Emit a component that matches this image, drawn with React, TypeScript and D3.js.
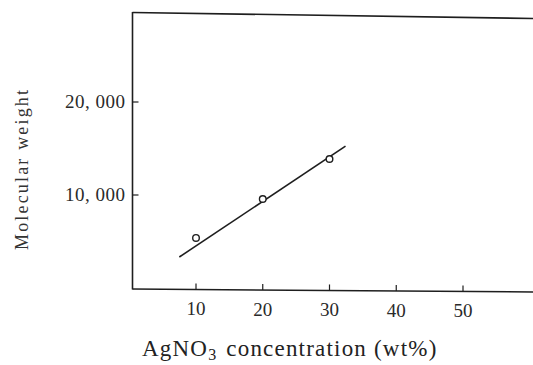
import React, { useEffect, useRef } from "react"
import * as d3 from "d3"

// measured points (AgNO3 wt% vs molecular weight)
const concentration = [10, 20, 30]
const molWeight = [5380, 9570, 13870]
// fitted line end points
const fitX = [7.5, 32.4]
const fitY = [3330, 15250]
const xTicks = [10, 20, 30, 40, 50]
const yTicks = [10000, 20000]
const yTickLabels = ["10, 000", "20, 000"]

const W = 533
const H = 365

export default function App() {
  const ref = useRef<SVGSVGElement>(null)

  useEffect(() => {
    const svg = d3.select(ref.current)
    svg.selectAll("*").remove()
    const ink = "#1e1e1e"
    const font = "Liberation Serif, DejaVu Serif, serif"

    const x = d3.scaleLinear().domain([10, 50]).range([196, 463])
    const y = d3.scaleLinear().domain([0, 20000]).range([288, 102])

    // frame: left, top (slightly skewed as in the scan), bottom
    const left = 132.5
    svg.append("line")
      .attr("x1", left).attr("x2", left)
      .attr("y1", 12).attr("y2", 289.5)
      .attr("stroke", ink).attr("stroke-width", 1.6)
    svg.append("line")
      .attr("x1", left).attr("x2", W)
      .attr("y1", 12.5).attr("y2", 18.5)
      .attr("stroke", ink).attr("stroke-width", 1.6)
    svg.append("line")
      .attr("x1", left).attr("x2", W)
      .attr("y1", 289).attr("y2", 292)
      .attr("stroke", ink).attr("stroke-width", 1.5)

    const bottomAt = (px: number) => 289 + (px - left) * 3 / (W - left)

    // x ticks (inward)
    xTicks.forEach(t => {
      const px = x(t)
      const b = bottomAt(px)
      svg.append("line")
        .attr("x1", px).attr("x2", px)
        .attr("y1", b).attr("y2", b - 6)
        .attr("stroke", ink).attr("stroke-width", 1.2)
      svg.append("text")
        .attr("x", px).attr("y", b + 26)
        .attr("text-anchor", "middle")
        .attr("font-family", font).attr("font-size", 19)
        .attr("fill", "#2a2a2a")
        .text(t)
    })

    // y ticks (inward)
    yTicks.forEach((t, i) => {
      const py = y(t)
      svg.append("line")
        .attr("x1", left).attr("x2", left + 6)
        .attr("y1", py).attr("y2", py)
        .attr("stroke", ink).attr("stroke-width", 1.2)
      svg.append("text")
        .attr("x", 125).attr("y", py + 6)
        .attr("text-anchor", "end")
        .attr("font-family", font).attr("font-size", 19)
        .attr("fill", "#2a2a2a")
        .attr("textLength", 60).attr("lengthAdjust", "spacing")
        .text(yTickLabels[i])
    })

    // fitted line
    const lineGen = d3.line<number>()
      .x(d => x(d))
      .y((d, i) => y(fitY[i]))
    svg.append("path")
      .attr("d", lineGen(fitX))
      .attr("fill", "none")
      .attr("stroke", ink).attr("stroke-width", 1.6)

    // data points
    svg.selectAll("circle.pt")
      .data(concentration)
      .enter()
      .append("circle")
      .attr("class", "pt")
      .attr("cx", d => x(d))
      .attr("cy", (d, i) => y(molWeight[i]))
      .attr("r", 3.3)
      .attr("fill", "white")
      .attr("stroke", ink).attr("stroke-width", 1.4)

    // y axis title
    svg.append("text")
      .attr("transform", "translate(28,170) rotate(-90)")
      .attr("text-anchor", "middle")
      .attr("font-family", font).attr("font-size", 18)
      .attr("fill", "#333")
      .attr("textLength", 160).attr("lengthAdjust", "spacing")
      .text("Molecular weight")

    // x axis title with subscript
    const xt = svg.append("text")
      .attr("x", 142).attr("y", 356)
      .attr("font-family", font).attr("font-size", 23)
      .attr("letter-spacing", 1.2)
      .attr("fill", "#222")
    xt.append("tspan").text("AgNO")
    xt.append("tspan").attr("font-size", 16).attr("dy", 4).text("3")
    xt.append("tspan").attr("dy", -4).attr("dx", 2)
      .text(" concentration (wt%)")
  }, [])

  return (
    <svg ref={ref} width={W} height={H}
      style={{ position: "absolute", left: 0, top: 0, background: "white" }} />
  )
}
